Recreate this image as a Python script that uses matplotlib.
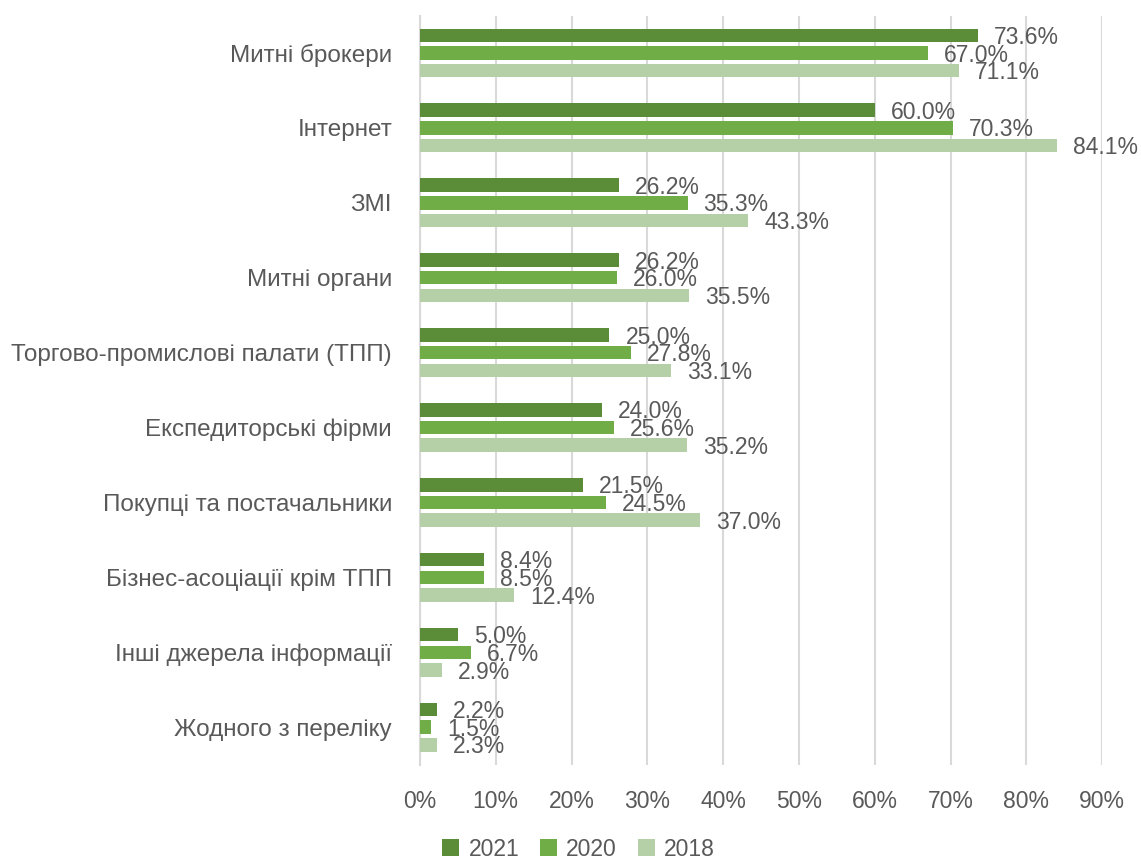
import numpy as np
import matplotlib
matplotlib.use('Agg')
import matplotlib.pyplot as plt

categories = ["Митні брокери", "Інтернет", "ЗМІ", "Митні органи",
              "Торгово-промислові палати (ТПП)", "Експедиторські фірми",
              "Покупці та постачальники", "Бізнес-асоціації крім ТПП",
              "Інші джерела інформації", "Жодного з переліку"]
series_names = ["2021", "2020", "2018"]
vals_2021 = [73.6, 60.0, 26.2, 26.2, 25.0, 24.0, 21.5, 8.4, 5.0, 2.2]
vals_2020 = [67.0, 70.3, 35.3, 26.0, 27.8, 25.6, 24.5, 8.5, 6.7, 1.5]
vals_2018 = [71.1, 84.1, 43.3, 35.5, 33.1, 35.2, 37.0, 12.4, 2.9, 2.3]
colors = ["#5B8C38", "#70AD47", "#B5CFA6"]

plt.rcParams['font.family'] = ['Liberation Sans', 'DejaVu Sans']
txt = "#595959"

fig = plt.figure(figsize=(11.41, 8.63), dpi=100)
ax = fig.add_axes([0.368, 0.114, 0.598, 0.868])

y = np.arange(len(categories))
step = 0.236
h = 0.18
for k, (name, vals) in enumerate(zip(series_names, [vals_2021, vals_2020, vals_2018])):
    pos = y + (k - 1) * step
    ax.barh(pos, vals, height=h, color=colors[k], label=name, zorder=3)
    for p, v in zip(pos, vals):
        ax.annotate(f"{v:.1f}%", (v, p), xytext=(11.5, -1.5), textcoords='offset points',
                    va='center', ha='left', fontsize=16.5, color=txt, zorder=4)

ax.set_ylim(len(categories) - 0.5, -0.5)
ax.set_xlim(0, 90)
ax.set_xticks(np.arange(0, 91, 10))
ax.set_xticklabels([f"{t}%" for t in range(0, 91, 10)])
ax.set_yticks(y)
ax.set_yticklabels(categories)
ax.tick_params(axis='both', length=0, labelsize=16.5, colors=txt)
ax.tick_params(axis='y', pad=20, labelsize=17.5)
ax.tick_params(axis='x', pad=18)
ax.grid(axis='x', color='#D9D9D9', linewidth=1.5, zorder=0)
for s in ['top', 'right', 'bottom']:
    ax.spines[s].set_visible(False)
ax.spines['left'].set_color('#D9D9D9')
ax.spines['left'].set_linewidth(1.5)

handles, labels = ax.get_legend_handles_labels()
fig.legend(handles, labels, loc='center', bbox_to_anchor=(0.507, 0.016), ncol=3,
           frameon=False, fontsize=16.5, labelcolor=txt, handlelength=0.75,
           handleheight=0.75, handletextpad=0.4, columnspacing=0.9,
           borderpad=0.1)

fig.savefig("out.png", dpi=100)
